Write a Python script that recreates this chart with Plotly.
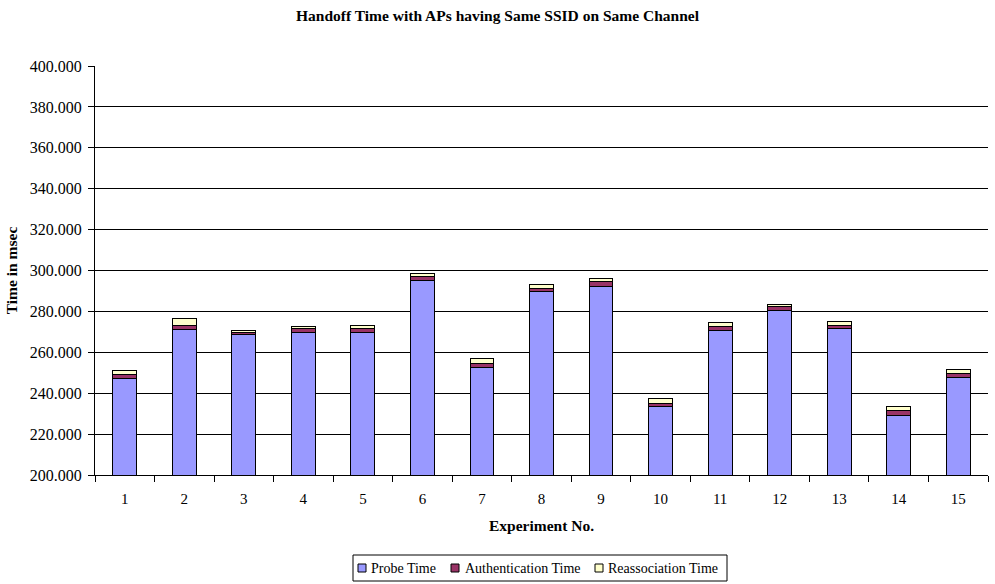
import plotly.graph_objects as go

experiments = [str(i) for i in range(1, 16)]
probe_time = [247.4, 271.2, 268.8, 269.8, 269.8, 295.2, 252.8, 289.8, 292.4, 233.3, 270.7, 280.5, 271.7, 229.3, 247.8]
auth_time = [1.8, 1.8, 1.0, 1.7, 1.7, 1.8, 1.8, 1.3, 2.1, 1.7, 1.8, 1.8, 1.3, 2.3, 1.7]
reassoc_time = [1.8, 3.3, 1.0, 1.2, 1.7, 1.6, 2.4, 2.1, 1.7, 2.2, 2.2, 1.2, 2.2, 1.7, 2.2]

series_names = ["Probe Time", "Authentication Time", "Reassociation Time"]
series_colors = ["#9999FF", "#993366", "#FFFFCC"]

FONT = "Liberation Serif, Times New Roman, serif"
W, H = 995, 584
ML, MR, MT, MB = 95, 7, 66, 109
outline = dict(color="black", width=1)

fig = go.Figure()
for name, vals, col in zip(series_names, [probe_time, auth_time, reassoc_time], series_colors):
    fig.add_trace(go.Bar(name=name, x=experiments, y=vals,
                         marker=dict(color=col, line=outline), showlegend=False))

# custom legend (pixel helpers -> paper coords)
pw, ph = W - ML - MR, H - MT - MB
def px(x):
    return (x - ML) / pw
def py(y):
    return (H - MB - y) / ph

shapes = [dict(type="rect", xref="paper", yref="paper",
               x0=px(353), x1=px(727), y0=py(581), y1=py(555),
               line=dict(color="black", width=1), fillcolor="white", layer="above")]
annotations = []
sq_x = [358, 451, 595]
txt_x = [369, 463, 606]
cy = 568
for name, col, sx, tx in zip(series_names, series_colors, sq_x, txt_x):
    shapes.append(dict(type="rect", xref="paper", yref="paper",
                       x0=px(sx), x1=px(sx + 8), y0=py(cy + 4), y1=py(cy - 4),
                       line=dict(color="black", width=1), fillcolor=col, layer="above"))
    annotations.append(dict(text=name, xref="paper", yref="paper", x=px(tx), y=py(cy),
                            xanchor="left", yanchor="middle", showarrow=False,
                            font=dict(family=FONT, size=14, color="black")))

fig.update_layout(
    width=W, height=H,
    barmode="stack", bargap=0.6,
    paper_bgcolor="white", plot_bgcolor="white",
    font=dict(family=FONT, size=14, color="black"),
    margin=dict(l=ML, r=MR, t=MT, b=MB, autoexpand=False),
    showlegend=False,
    shapes=shapes, annotations=annotations,
    title=dict(text="<b>Handoff Time with APs having Same SSID on Same Channel</b>",
               x=0.5, xanchor="center", xref="container",
               y=1 - 16 / H, yanchor="middle", yref="container",
               font=dict(family=FONT, size=15.5, color="black")),
    xaxis=dict(type="category", automargin=False, showline=True, linecolor="black", linewidth=1,
               ticks="outside", tickson="boundaries", ticklen=6, tickcolor="black",
               ticklabelstandoff=10,
               showgrid=False,
               tickfont=dict(family=FONT, size=15, color="black"),
               title=dict(text="<b>Experiment No.</b>", standoff=14,
                          font=dict(family=FONT, size=15.5, color="black"))),
    yaxis=dict(range=[200, 400], dtick=20, tickformat=".3f", automargin=False,
               showline=True, linecolor="black", linewidth=1,
               ticks="outside", ticklen=6, tickcolor="black",
               ticklabelstandoff=3,
               showgrid=True, gridcolor="black", gridwidth=1,
               tickfont=dict(family=FONT, size=16, color="black"),
               title=dict(text="<b>Time in msec</b>", standoff=8,
                          font=dict(family=FONT, size=15.5, color="black"))),
)

fig.write_html("out.html", config={"displayModeBar": False},
               post_script="document.body.style.margin='0';")
